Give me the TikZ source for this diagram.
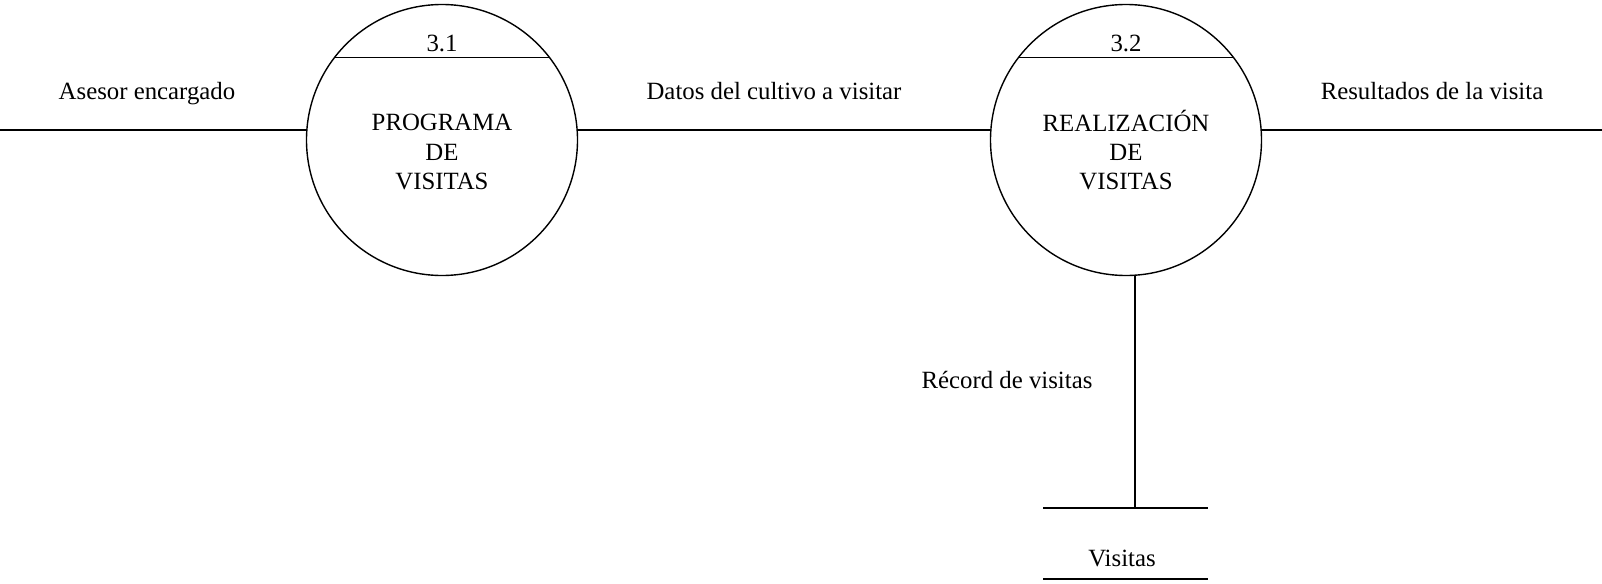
\documentclass[tikz,border=0pt]{standalone}
\usepackage{fontspec}
\setmainfont{Liberation Serif}
\usetikzlibrary{calc}
\tikzset{
  proc/.style={circle, draw, line width=0.7pt, minimum size=135.5pt, inner sep=0pt},
  lbl/.style={font=\fontsize{12.4}{14.6}\selectfont, inner sep=1pt},
  flow/.style={line width=0.7pt}
}
\begin{document}
\begin{tikzpicture}[x=0.5pt, y=-0.5pt]
    \useasboundingbox (0,0) rectangle (1602,584);

    % processes
    \node[proc] (p1) at (442,140) {};
    \node[proc] (p2) at (1126,140) {};
    \draw[flow] ($(p1)+(-107.2,-82.8)$) -- ($(p1)+(107.2,-82.8)$); % divider
    \draw[flow] ($(p2)+(-107.2,-82.8)$) -- ($(p2)+(107.2,-82.8)$); % divider
    \node[lbl, anchor=base] (n1) at (442,51) {3.1};
    \node[lbl, anchor=base] (n2) at (1126,51) {3.2};
    \node[lbl, align=center] (t1) at (442,152) {PROGRAMA\\DE\\VISITAS};
    \node[lbl, align=center] (t2) at (1126,150) {REALIZACIÓN\\DE\\VISITAS};

    % data store
    \coordinate (s1) at (1043,508);
    \coordinate (s2) at (1208,508);
    \coordinate (s3) at (1043,579);
    \coordinate (s4) at (1208,579);
    \draw[flow] (s1) -- (s2);
    \draw[flow] (s3) -- (s4);
    \node[lbl, anchor=base] (st) at (1122,566) {Visitas};

    % flows
    \coordinate (inl) at (0,130);
    \coordinate (outr) at (1602,130);
    \coordinate (sin) at (1135,508);
    \coordinate (a1) at ($(p1)+(-135.1,-10)$);
    \coordinate (b1) at ($(p1)+(135.1,-10)$);
    \coordinate (a2) at ($(p2)+(-135.1,-10)$);
    \coordinate (b2) at ($(p2)+(135.1,-10)$);
    \coordinate (c2) at ($(p2)+(9,135.2)$);
    \draw[flow] (inl) -- (a1);
    \draw[flow] (b1) -- (a2);
    \draw[flow] (b2) -- (outr);
    \draw[flow] (c2) -- (sin);
    \node[lbl, anchor=base] (f1) at (147,99) {Asesor encargado};
    \node[lbl, anchor=base] (f2) at (774,99) {Datos del cultivo a visitar};
    \node[lbl, anchor=base] (f3) at (1432,99) {Resultados de la visita};
    \node[lbl, anchor=base] (f4) at (1007,388) {Récord de visitas};
\end{tikzpicture}
\end{document}
